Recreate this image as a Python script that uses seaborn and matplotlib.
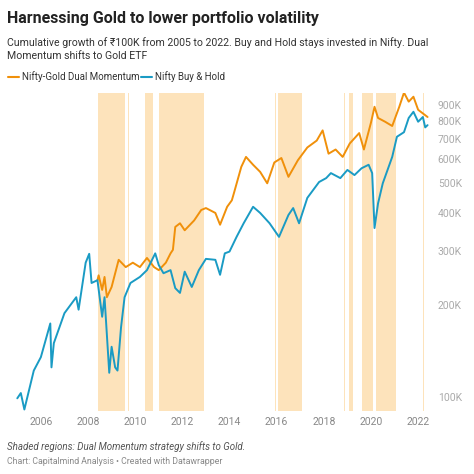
import matplotlib
matplotlib.use("Agg")
import matplotlib.pyplot as plt
import seaborn as sns
import pandas as pd
import numpy as np

blue_x = [2005.0,2005.15,2005.3,2005.7,2006.0,2006.4,2006.45,2006.55,2007.0,2007.5,2007.6,2007.9,2008.05,2008.15,2008.4,2008.6,2008.7,2008.9,2009.0,2009.15,2009.25,2009.4,2009.55,2009.8,2010.2,2010.5,2010.85,2011.0,2011.2,2011.5,2011.7,2011.9,2012.1,2012.4,2012.7,2013.0,2013.4,2013.6,2013.8,2014.0,2014.3,2014.6,2015.0,2015.3,2015.7,2016.1,2016.5,2016.7,2016.95,2017.3,2017.8,2018.1,2018.3,2018.7,2019.0,2019.3,2019.6,2019.9,2020.05,2020.15,2020.3,2020.5,2020.9,2021.1,2021.4,2021.6,2021.8,2022.0,2022.2,2022.3,2022.4]
blue_y = [99,103,91,122,135,174,125,150,188,212,193,275,294,236,241,183,212,120,146,125,122,169,212,236,247,260,295,270,254,260,227,219,257,229,260,283,281,251,295,299,334,370,419,400,370,334,394,415,370,448,505,520,540,520,553,532,560,575,540,357,430,500,610,710,735,818,857,795,824,762,775]
orange_x = [2008.4,2008.45,2008.6,2008.7,2008.8,2009.0,2009.3,2009.6,2009.9,2010.2,2010.5,2010.8,2011.0,2011.3,2011.5,2011.6,2011.7,2011.9,2012.1,2012.5,2012.8,2013.0,2013.4,2013.6,2013.9,2014.1,2014.2,2014.5,2014.7,2015.0,2015.3,2015.6,2015.9,2016.2,2016.5,2016.9,2017.3,2017.7,2017.95,2018.2,2018.5,2018.8,2019.1,2019.5,2019.7,2020.0,2020.15,2020.3,2020.6,2020.9,2021.2,2021.4,2021.6,2021.8,2022.0,2022.4]
orange_y = [241,250,224,247,212,229,281,266,275,266,285,266,260,275,295,303,360,370,351,378,409,415,400,366,419,440,468,566,610,575,545,500,585,605,525,595,655,690,745,625,645,610,675,730,645,790,890,818,795,770,890,990,925,960,870,824]
gold_start = [2008.41,2009.68,2010.40,2011.01,2015.94,2016.07,2018.87,2019.06,2019.62,2020.20,2022.20]
gold_end   = [2009.56,2009.72,2010.75,2012.91,2015.97,2017.07,2018.90,2019.24,2020.08,2021.08,2022.23]
yticks = [100,200,300,400,500,600,700,800,900]
xticks = [2006,2008,2010,2012,2014,2016,2018,2020,2022]

df = pd.concat([
    pd.DataFrame({"year": orange_x, "value": orange_y, "series": "Nifty-Gold Dual Momentum"}),
    pd.DataFrame({"year": blue_x, "value": blue_y, "series": "Nifty Buy & Hold"}),
])

sns.set_theme(style="white")
plt.rcParams['font.family'] = ['Roboto', 'DejaVu Sans']
fig = plt.figure(figsize=(4.74, 4.74), dpi=100)
ax = fig.add_axes([0.03, 0.133, 0.882, 0.671])
for s, e in zip(gold_start, gold_end):
    ax.axvspan(s, e, color="#fde3bb", lw=0, zorder=0)
sns.lineplot(data=df, x="year", y="value", hue="series", ax=ax, legend=False,
             palette={"Nifty-Gold Dual Momentum": "#f0900a", "Nifty Buy & Hold": "#1a9bc4"},
             lw=1.4, zorder=3)
ax.set_yscale("log")
ax.set_ylim(90, 988)
ax.set_xlim(2004.87, 2022.6)
ax.yaxis.tick_right()
ax.set_yticks(yticks)
ax.set_yticklabels([f"{v}K" for v in yticks])
ax.yaxis.set_minor_locator(matplotlib.ticker.NullLocator())
ax.set_xticks(xticks)
ax.tick_params(axis="both", colors="#888888", labelsize=7.5, length=0, pad=4)
ax.tick_params(axis="y", labelcolor="#aaaaaa")
for sp in ax.spines.values():
    sp.set_visible(False)
ax.set_xlabel(""); ax.set_ylabel("")

fig.text(0.015, 0.962, "Harnessing Gold to lower portfolio volatility", fontsize=11.5, weight="bold", color="#222222", va="center")
fig.text(0.015, 0.897, "Cumulative growth of ₹100K from 2005 to 2022. Buy and Hold stays invested in Nifty. Dual\nMomentum shifts to Gold ETF", fontsize=7.6, color="#333333", va="center", linespacing=1.35)
fig.lines.append(plt.Line2D([0.017, 0.04], [0.838, 0.838], color="#f0900a", lw=1.5, transform=fig.transFigure))
fig.text(0.047, 0.838, "Nifty-Gold Dual Momentum", fontsize=7, color="#333333", va="center")
fig.lines.append(plt.Line2D([0.297, 0.32], [0.838, 0.838], color="#1a9bc4", lw=1.5, transform=fig.transFigure))
fig.text(0.327, 0.838, "Nifty Buy & Hold", fontsize=7, color="#333333", va="center")
fig.text(0.015, 0.057, "Shaded regions: Dual Momentum strategy shifts to Gold.", fontsize=7, style="italic", color="#555555", va="center")
fig.text(0.015, 0.027, "Chart: Capitalmind Analysis • Created with Datawrapper", fontsize=6.3, color="#888888", va="center")
fig.savefig("out.png", dpi=100, facecolor="white")
